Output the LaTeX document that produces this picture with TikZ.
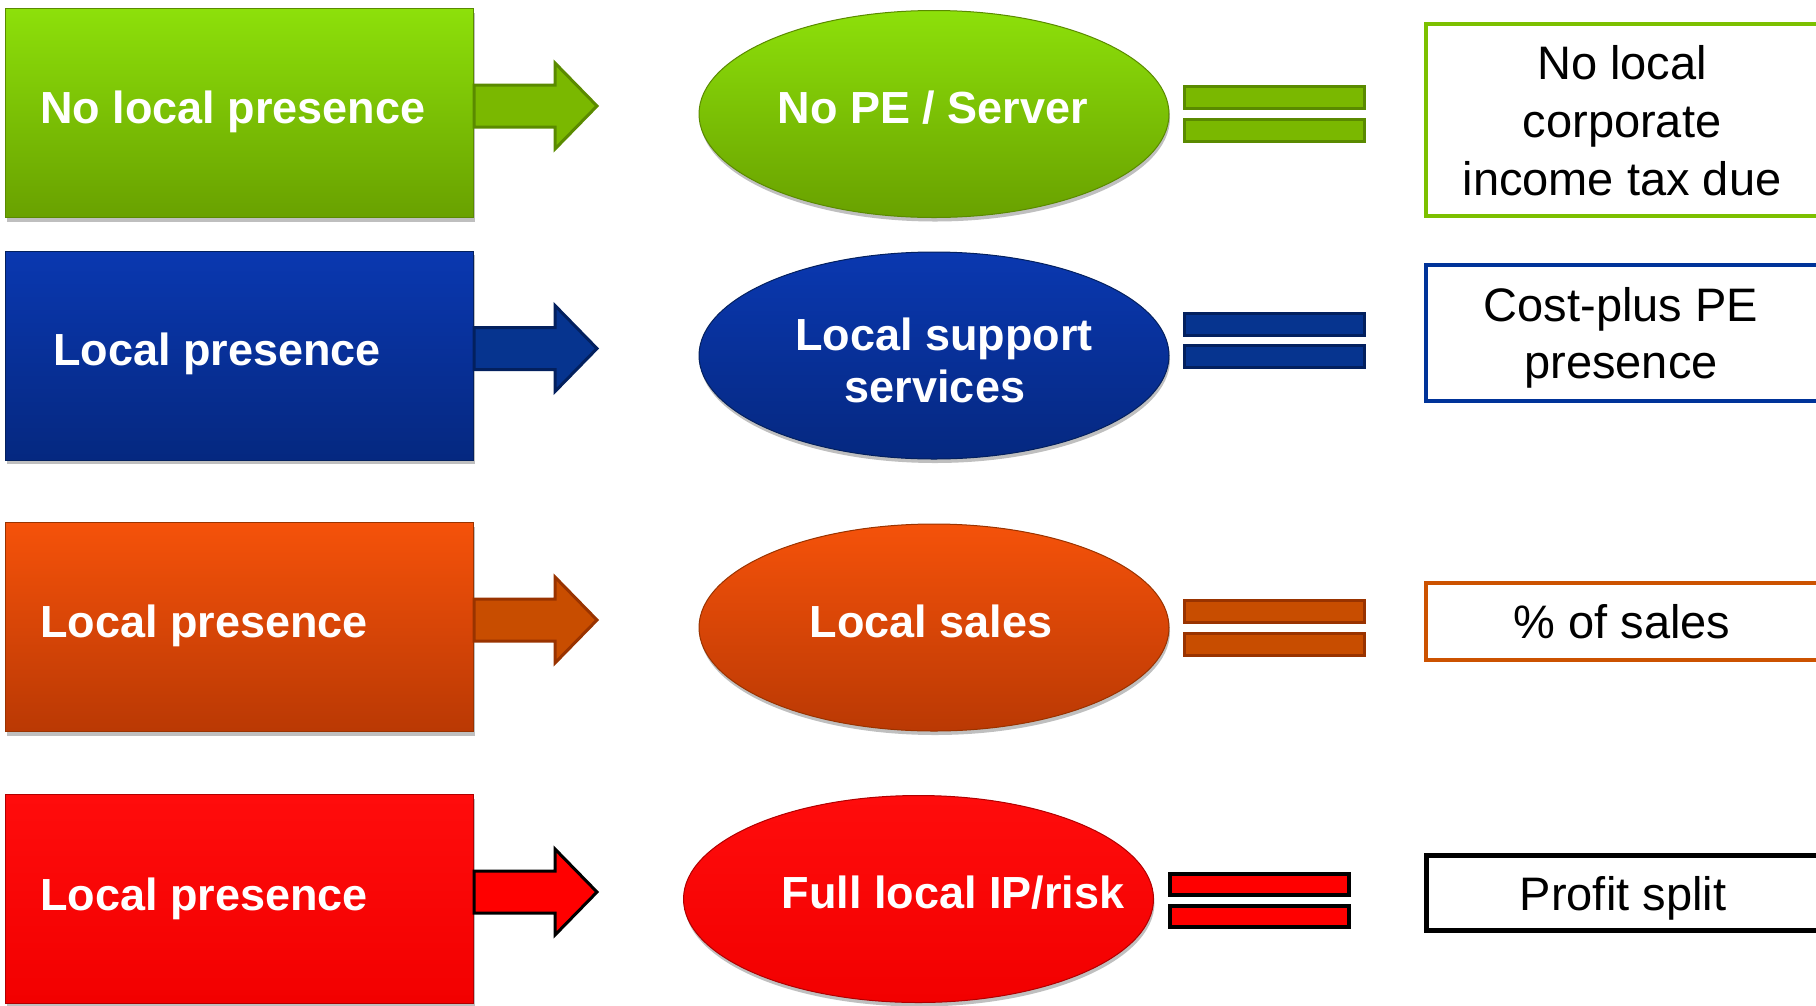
\documentclass[tikz,border=0pt]{standalone}
\usepackage{fontspec}
\setmainfont{Liberation Sans}
\usetikzlibrary{shapes.geometric,shadows,calc}
\definecolor{gTop}{HTML}{8DE00A}
\definecolor{gBot}{HTML}{69A100}
\definecolor{gLine}{HTML}{5A8A00}
\definecolor{gFill}{HTML}{7AB800}
\definecolor{gBox}{HTML}{7CC000}
\definecolor{bTop}{HTML}{0A38B0}
\definecolor{bBot}{HTML}{052880}
\definecolor{bLine}{HTML}{03205E}
\definecolor{bFill}{HTML}{06348F}
\definecolor{bBox}{HTML}{003399}
\definecolor{oTop}{HTML}{F5520A}
\definecolor{oBot}{HTML}{BA3904}
\definecolor{oLine}{HTML}{993300}
\definecolor{oFill}{HTML}{C84D00}
\definecolor{oBox}{HTML}{CC5200}
\definecolor{rTop}{HTML}{FF0C0C}
\definecolor{rBot}{HTML}{F20000}
\definecolor{rLine}{HTML}{B00000}
\tikzset{
  softshadow/.style={drop shadow={shadow xshift=1pt, shadow yshift=-4pt, opacity=0.25, fill=black}},
  srcbox/.style={rectangle, minimum width=468pt, minimum height=209pt, inner sep=0pt, line width=1pt, softshadow},
  midell/.style={ellipse, minimum width=470pt, minimum height=207pt, inner sep=0pt, line width=1pt, softshadow},
  bigtxt/.style={text=white, font=\fontsize{45}{54}\selectfont\bfseries, inner sep=0pt, anchor=base},
  restxt/.style={text=black, font=\fontsize{47}{56}\selectfont, inner sep=0pt, anchor=base},
  resbox/.style={rectangle, inner sep=0pt, line width=4pt, minimum width=396pt, fill=white},
  eqbar/.style={rectangle, inner sep=0pt, line width=3pt, minimum width=180pt, minimum height=22pt},
  blockarrow/.style={line width=3pt, line join=miter},
}
\newcommand\blkarrow[3]{%
  \draw[blockarrow, fill=#2, draw=#3] ($(#1.east)+(0,-28)$) -- ++(81,0) -- ++(0,-22)
    -- ($(#1.east)+(123,-7)$) -- ($(#1.east)+(81,36)$) -- ++(0,-22)
    -- ($(#1.east)+(0,14)$) -- cycle;}
\begin{document}
\begin{tikzpicture}[x=1pt,y=-1pt]
\useasboundingbox (0,0) rectangle (1816,1005);
\clip (0,0) rectangle (1816,1005);

% ---------- Row 1 (green) ----------
\node[srcbox, top color=gTop, bottom color=gBot, draw=gLine] (r1) at (239.5,113) {};
\node[bigtxt, anchor=base west] (r1t) at (40,123) {No local presence};
\blkarrow{r1}{gFill}{gLine}
\node[midell, top color=gTop, bottom color=gBot, draw=gLine] (e1) at (934,114) {};
\node[bigtxt] (e1t) at (933,123) {No PE / Server};
\node[eqbar, fill=gFill, draw=gLine] (q1a) at (1274.5,97.5) {};
\node[eqbar, fill=gFill, draw=gLine] (q1b) at (1274.5,130) {};
\node[resbox, draw=gBox, minimum height=192pt] (b1) at (1624,120) {};
\node[restxt] (b1t1) at (1622,79) {No local};
\node[restxt] (b1t2) at (1622,137) {corporate};
\node[restxt] (b1t3) at (1622,195) {income tax due};

% ---------- Row 2 (blue) ----------
\node[srcbox, top color=bTop, bottom color=bBot, draw=bLine] (r2) at (239.5,355.5) {};
\node[bigtxt, anchor=base west] (r2t) at (53,365) {Local presence};
\blkarrow{r2}{bFill}{bLine}
\node[midell, top color=bTop, bottom color=bBot, draw=bLine] (e2) at (934,355.5) {};
\node[bigtxt] (e2t1) at (944,350) {Local support};
\node[bigtxt] (e2t2) at (935,402) {services};
\node[eqbar, fill=bFill, draw=bLine] (q2a) at (1274.5,324.5) {};
\node[eqbar, fill=bFill, draw=bLine] (q2b) at (1274.5,356) {};
\node[resbox, draw=bBox, minimum height=136pt] (b2) at (1624,333) {};
\node[restxt] (b2t1) at (1621,321) {Cost-plus PE};
\node[restxt] (b2t2) at (1621,378) {presence};

% ---------- Row 3 (orange) ----------
\node[srcbox, top color=oTop, bottom color=oBot, draw=oLine] (r3) at (239.5,627) {};
\node[bigtxt, anchor=base west] (r3t) at (40,637) {Local presence};
\blkarrow{r3}{oFill}{oLine}
\node[midell, top color=oTop, bottom color=oBot, draw=oLine] (e3) at (934,627.5) {};
\node[bigtxt] (e3t) at (931,637) {Local sales};
\node[eqbar, fill=oFill, draw=oLine] (q3a) at (1274.5,611.5) {};
\node[eqbar, fill=oFill, draw=oLine] (q3b) at (1274.5,644) {};
\node[resbox, draw=oBox, minimum height=77pt] (b3) at (1624,621.5) {};
\node[restxt] (b3t) at (1622,638) {\% of sales};

% ---------- Row 4 (red) ----------
\node[srcbox, top color=rTop, bottom color=rBot, draw=rLine] (r4) at (239.5,899) {};
\node[bigtxt, anchor=base west] (r4t) at (40,910) {Local presence};
\blkarrow{r4}{red}{black}
\node[midell, top color=rTop, bottom color=rBot, draw=rLine] (e4) at (918.5,899) {};
\node[bigtxt] (e4t) at (953,908) {Full local IP/risk};
\node[eqbar, fill=red, draw=black, line width=4pt, minimum width=179pt, minimum height=21pt] (q4a) at (1259,884) {};
\node[eqbar, fill=red, draw=black, line width=4pt, minimum width=179pt, minimum height=21pt] (q4b) at (1259,916) {};
\node[resbox, draw=black, line width=5pt, minimum height=75pt] (b4) at (1624,893) {};
\node[restxt] (b4t) at (1623,910) {Profit split};
\end{tikzpicture}
\end{document}
